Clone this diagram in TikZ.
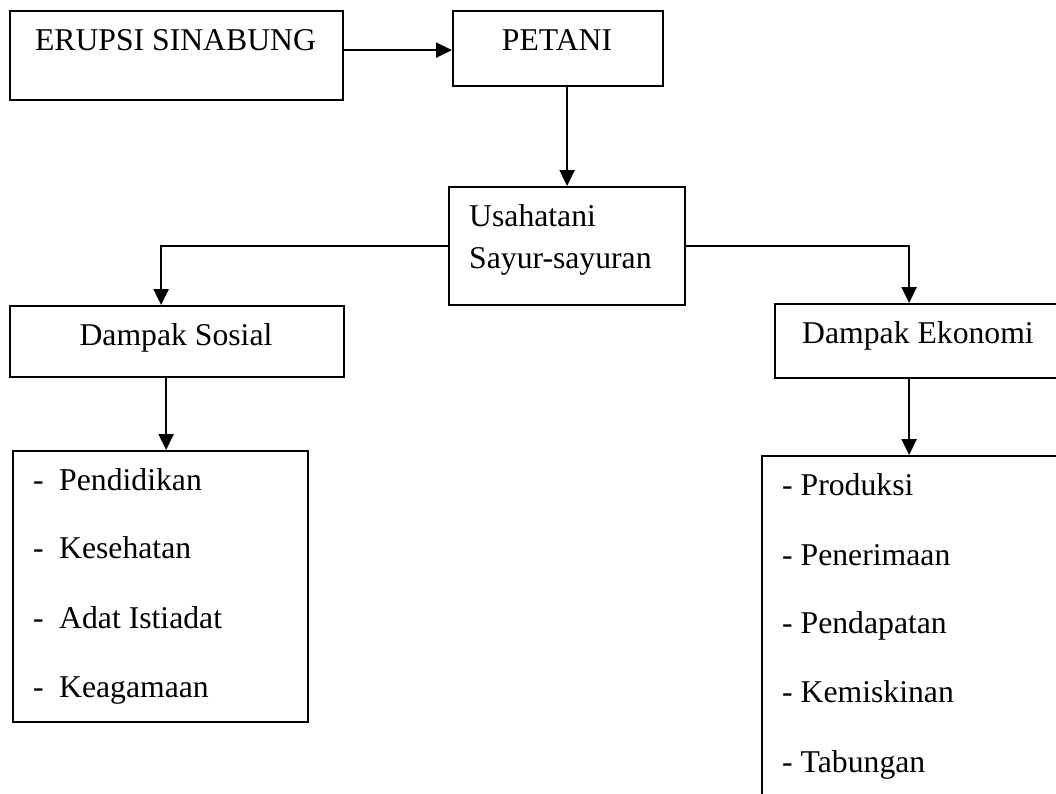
\documentclass[tikz,border=0pt]{standalone}
\usepackage{fontspec}
\setmainfont{Liberation Serif}
\usetikzlibrary{arrows.meta}
\begin{document}
\begin{tikzpicture}[x=1pt,y=-1pt,
  box/.style={draw=black, line width=2.2pt, rectangle, inner sep=0pt, anchor=north west},
  txt/.style={inner sep=0pt, font=\fontsize{31.7pt}{38pt}\selectfont},
  arr/.style={draw=black, line width=2.2pt, -{Triangle[width=15pt,length=16pt]}}]
\clip (0,0) rectangle (1056,793);
\fill[white] (0,0) rectangle (1056,793);
% boxes
\node[box, minimum width=333pt, minimum height=89pt] (erupsi) at (9,10) {};
\node[box, minimum width=210pt, minimum height=75pt] (petani) at (452,10) {};
\node[box, minimum width=236pt, minimum height=118pt] (usaha) at (448,186) {};
\node[box, minimum width=334pt, minimum height=71pt] (sosial) at (9,305) {};
\node[box, minimum width=300pt, minimum height=74pt] (ekon) at (774,303) {};
\node[box, minimum width=295pt, minimum height=271pt] (sosiallist) at (12,450) {};
\node[box, minimum width=310pt, minimum height=360pt] (ekonlist) at (761,455) {};
% texts
\node[txt, anchor=base] (terupsi) at (175.5,50) {ERUPSI SINABUNG};
\node[txt, anchor=base] (tpetani) at (557,50) {PETANI};
\node[txt, anchor=base west] (tusaha1) at (469,226) {Usahatani};
\node[txt, anchor=base west] (tusaha2) at (469,268) {Sayur-sayuran};
\node[txt, anchor=base] (tsosial) at (176,345) {Dampak Sosial};
\node[txt, anchor=base west] (tekon) at (802,343) {Dampak Ekonomi};
% social list
\node[txt, anchor=base west] (sd1) at (33,490) {-};
\node[txt, anchor=base west] (s1) at (59,490) {Pendidikan};
\node[txt, anchor=base west] (sd2) at (33,558) {-};
\node[txt, anchor=base west] (s2) at (59,558) {Kesehatan};
\node[txt, anchor=base west] (sd3) at (33,628) {-};
\node[txt, anchor=base west] (s3) at (59,628) {Adat Istiadat};
\node[txt, anchor=base west] (sd4) at (33,697) {-};
\node[txt, anchor=base west] (s4) at (59,697) {Keagamaan};
% economic list
\node[txt, anchor=base west] (e1) at (782,495) {- Produksi};
\node[txt, anchor=base west] (e2) at (782,565) {- Penerimaan};
\node[txt, anchor=base west] (e3) at (782,633) {- Pendapatan};
\node[txt, anchor=base west] (e4) at (782,702) {- Kemiskinan};
\node[txt, anchor=base west] (e5) at (782,772) {- Tabungan};
% connectors
\draw[arr] (petani.west -| erupsi.east) ++(0,1.5) -- ([yshift=-1.5pt]petani.west);
\draw[arr] (usaha.north |- petani.south) -- (usaha.north);
\draw[arr] (usaha.west) -| ([xshift=-16pt]sosial.north);
\draw[arr] (usaha.east) -| ([xshift=-16pt]ekon.north);
\draw[arr] ([xshift=-11pt]sosial.south) -- ([xshift=-11pt]sosial.south |- sosiallist.north);
\draw[arr] ([xshift=-16pt]ekon.south) -- ([xshift=-16pt]ekon.south |- ekonlist.north);
\end{tikzpicture}
\end{document}
